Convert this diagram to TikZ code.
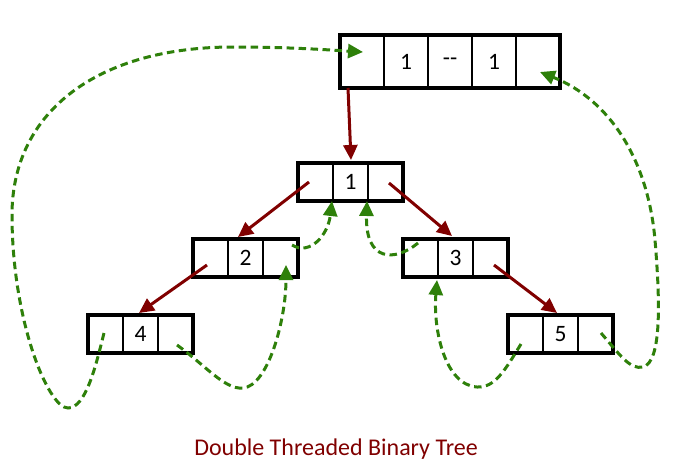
\documentclass[tikz,border=0pt]{standalone}
\usepackage{fontspec}
\setmainfont{Carlito}
\usetikzlibrary{arrows.meta,calc}
\definecolor{treered}{RGB}{128,0,0}
\definecolor{threadgreen}{RGB}{46,128,10}
\begin{document}
\begin{tikzpicture}[x=1pt,y=-1pt,
  cell/.style={draw, line width=1.5pt, minimum width=35pt, minimum height=38pt, inner sep=0pt, outer sep=0pt, font=\fontsize{23.5}{26}\selectfont},
  hcell/.style={cell, minimum width=44pt, minimum height=53pt},
  frame/.style={line width=3.2pt},
  child/.style={draw=treered, line width=3pt, -{Triangle[length=15pt,width=14pt]}},
  thread/.style={draw=threadgreen, line width=3pt, dash pattern=on 7.5pt off 4.5pt, -{Triangle[length=15pt,width=14pt]}}]
\useasboundingbox (0,0) rectangle (700,472);

% header node
\node[hcell] (h1) at (362,61.5) {};
\node[hcell] (h2) at (406,61.5) {1};
\node[hcell] (h3) at (450,61.5) {-\kern0pt-};
\node[hcell] (h4) at (494,61.5) {1};
\node[hcell] (h5) at (538,61.5) {};
\draw[frame] (h1.north west) rectangle (h5.south east);

% node 1
\node[cell] (n1l) at (315.5,182) {};
\node[cell] (n1m) at (350.5,182) {1};
\node[cell] (n1r) at (385.5,182) {};
\draw[frame] (n1l.north west) rectangle (n1r.south east);
% node 2
\node[cell] (n2l) at (210.5,258) {};
\node[cell] (n2m) at (245.5,258) {2};
\node[cell] (n2r) at (280.5,258) {};
\draw[frame] (n2l.north west) rectangle (n2r.south east);
% node 3
\node[cell] (n3l) at (420.5,258) {};
\node[cell] (n3m) at (455.5,258) {3};
\node[cell] (n3r) at (490.5,258) {};
\draw[frame] (n3l.north west) rectangle (n3r.south east);
% node 4
\node[cell] (n4l) at (105.5,334) {};
\node[cell] (n4m) at (140.5,334) {4};
\node[cell] (n4r) at (175.5,334) {};
\draw[frame] (n4l.north west) rectangle (n4r.south east);
% node 5
\node[cell] (n5l) at (525.5,334) {};
\node[cell] (n5m) at (560.5,334) {5};
\node[cell] (n5r) at (595.5,334) {};
\draw[frame] (n5l.north west) rectangle (n5r.south east);

% child links
\draw[child] ([shift={(-14,0)}]h1.south) -- ([shift={(0.5,-3)}]n1m.north);
\draw[child] ([shift={(-6.5,0)}]n1l.center) -- ([shift={(-7.5,-2)}]n2m.north);
\draw[child] ([shift={(-3.5,7)}]n2l.center) -- ([shift={(-1.5,-2)}]n4m.north);
\draw[child] ([shift={(3.5,1)}]n1r.center) -- ([shift={(-3.5,-3)}]n3m.north);
\draw[child] ([shift={(3.5,7)}]n3r.center) -- ([shift={(-3.5,-2)}]n5m.north);

% threads
\draw[thread] ([shift={(-1.5,-1)}]n4l.center)
  .. controls (96,365) and (86,408) .. (68,408)
  .. controls (48,408) and (12,320) .. (12,215)
  .. controls (12,110) and (100,47) .. (233,47)
  .. controls (290,47) and (330,50) .. ([shift={(1,-9.5)}]h1.center);
\draw[thread] ([shift={(1.5,11)}]n4r.center)
  .. controls (205,365) and (225,390) .. (243,388)
  .. controls (268,386) and (286,320) .. ([shift={(5.5,7)}]n2r.center);
\draw[thread] ([shift={(11.5,-13)}]n2r.center)
  .. controls (310,256) and (328,235) .. ([shift={(-1,0)}]n1m.south west);
\draw[thread] ([shift={(-2.5,-15)}]n3l.center)
  .. controls (395,262) and (365,262) .. ([shift={(-1,0)}]n1m.south east);
\draw[thread] ([shift={(-4.5,10)}]n5l.center)
  .. controls (505,370) and (495,388) .. (477,387)
  .. controls (445,385) and (433,330) .. ([shift={(-1,3)}]n3m.south west);
\draw[thread] ([shift={(5.5,-1)}]n5r.center)
  .. controls (620,355) and (630,370) .. (643,367)
  .. controls (662,362) and (660,300) .. (655,240)
  .. controls (648,160) and (610,100) .. ([shift={(2,10.5)}]h5.center);

% caption
\node[text=treered, font=\fontsize{24}{28}\selectfont] (title) at (336,449) {Double Threaded Binary Tree};
\end{tikzpicture}
\end{document}
